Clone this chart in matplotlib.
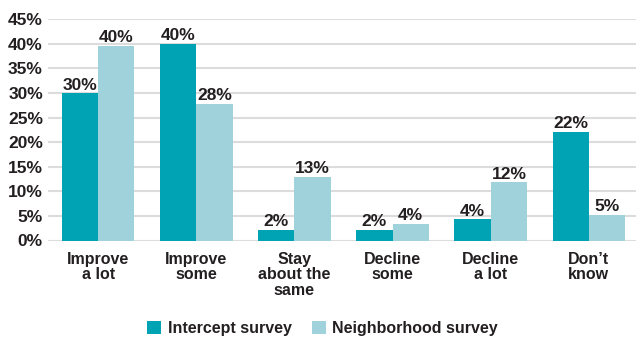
import matplotlib.pyplot as plt
import numpy as np

# Data
categories = ['Improve\na lot', 'Improve\nsome', 'Stay\nabout the\nsame',
              'Decline\nsome', 'Decline\na lot', 'Don\u2019t\nknow']
intercept = [30.0, 40.0, 2.2, 2.2, 4.3, 22.1]
neighborhood = [39.6, 27.8, 13.0, 3.4, 11.8, 5.2]
intercept_lbl = ['30%', '40%', '2%', '2%', '4%', '22%']
neighborhood_lbl = ['40%', '28%', '13%', '4%', '12%', '5%']
series_names = ['Intercept survey', 'Neighborhood survey']

c_int = '#00a3b4'
c_nb = '#a0d2dc'
txt = '#231f20'

plt.rcParams['font.family'] = ['Liberation Sans', 'DejaVu Sans']

fig = plt.figure(figsize=(6.36, 3.39), dpi=100)
ax = fig.add_axes([48/636, 1 - 240.5/339, 1 - 48/636, (240.5 - 19.3)/339])

x = np.arange(len(categories))
w = 0.37
b1 = ax.bar(x - w/2, intercept, w, color=c_int, label=series_names[0], zorder=3)
b2 = ax.bar(x + w/2, neighborhood, w, color=c_nb, label=series_names[1], zorder=3)

# value labels above the bars
for bars, lbls in [(b1, intercept_lbl), (b2, neighborhood_lbl)]:
    for r, l in zip(bars, lbls):
        ax.text(r.get_x() + r.get_width()/2, r.get_height() + 0.1, l,
                ha='center', va='bottom', fontsize=12.5, fontweight='bold', color=txt)

ax.set_ylim(0, 45)
ax.set_xlim(-0.51, 5.48)
ax.set_yticks(np.arange(0, 46, 5))
ax.set_yticklabels([f'{v}%' for v in range(0, 46, 5)])
ax.yaxis.grid(True, color='#dcdcdc', linewidth=1.5, zorder=0)
ax.set_axisbelow(True)
for s in ax.spines.values():
    s.set_visible(False)
ax.tick_params(axis='y', length=0, pad=3.6, labelsize=12.5, labelcolor=txt)
ax.tick_params(axis='x', length=0, pad=8, labelsize=11.5, labelcolor=txt)
for t in ax.get_yticklabels():
    t.set_fontweight('bold')
ax.set_xticks(x)
ax.set_xticklabels(categories, fontweight='bold', linespacing=1.06)

fig.legend(loc='center', ncol=2, frameon=False,
           bbox_to_anchor=(0.507, 0.030), handlelength=0.875, handleheight=0.875,
           columnspacing=1.25, handletextpad=0.42, borderaxespad=0, borderpad=0,
           prop={'weight': 'bold', 'size': 11.5})
for t in fig.legends[0].get_texts():
    t.set_color(txt)

fig.savefig('out.png', dpi=100)
